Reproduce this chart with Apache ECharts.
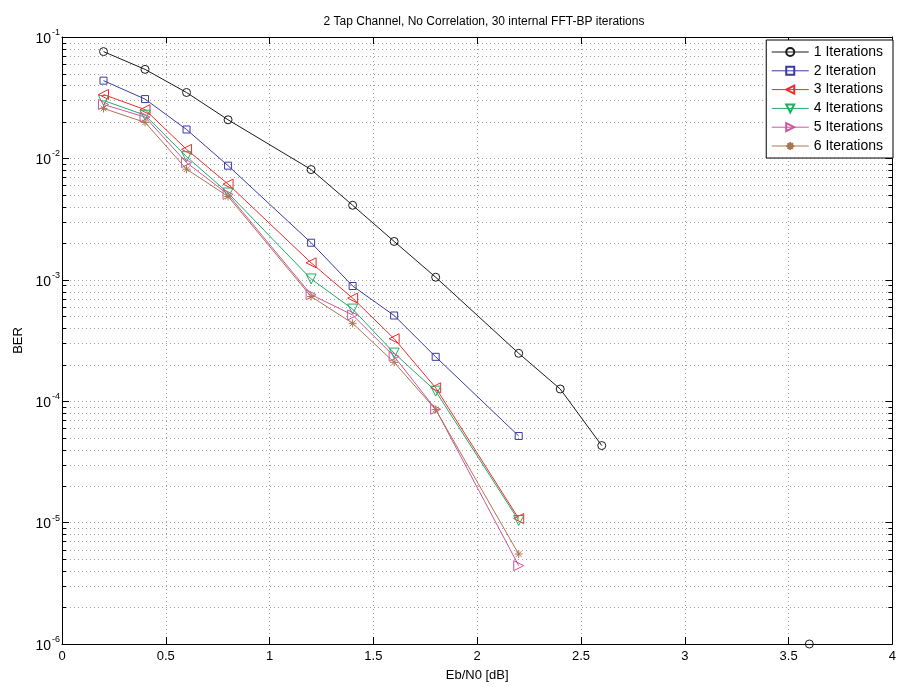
<!DOCTYPE html>
<html>
<head>
<meta charset="utf-8">
<script src="https://cdn.jsdelivr.net/npm/echarts@6/dist/echarts.min.js"></script>
<style>
  html, body { margin: 0; padding: 0; background: #fff; }
  #chart { width: 899px; height: 687px; }
</style>
</head>
<body>
<div id="chart"></div>
<script>
// Eb/N0 points (dB)
const ebn0Long = [0.2, 0.4, 0.6, 0.8, 1.2, 1.4, 1.6, 1.8, 2.2, 2.4, 2.6, 3.6];
const ebn0 = [0.2, 0.4, 0.6, 0.8, 1.2, 1.4, 1.6, 1.8, 2.2];

// Bit error rates per number of outer iterations
const ber1 = [0.0758, 0.0541, 0.0349, 0.0208, 0.00809, 0.00411, 0.00207, 0.00105, 2.48e-4, 1.26e-4, 4.31e-5, 1e-6];
const ber2 = [0.0437, 0.0308, 0.0173, 0.00871, 0.00202, 8.89e-4, 5.08e-4, 2.32e-4, 5.17e-5];
const ber3 = [0.0336, 0.0252, 0.01187, 0.00614, 0.00138, 7.06e-4, 3.27e-4, 1.29e-4, 1.08e-5];
const ber4 = [0.0300, 0.0227, 0.01033, 0.00519, 0.001016, 5.74e-4, 2.49e-4, 1.21e-4, 1.04e-5];
const ber5 = [0.0278, 0.0219, 0.00923, 0.00505, 7.55e-4, 5.13e-4, 2.34e-4, 8.59e-5, 4.42e-6];
const ber6 = [0.0258, 0.0198, 0.00815, 0.00486, 7.28e-4, 4.38e-4, 2.09e-4, 8.53e-5, 5.51e-6];

const seriesNames = ['1 Iterations', '2 Iteration', '3 Iterations', '4 Iterations', '5 Iterations', '6 Iterations'];
const xTicks = ['0', '0.5', '1', '1.5', '2', '2.5', '3', '3.5', '4'];

const FONT = '"Liberation Sans", Arial, sans-serif';

// Pair up x/y values; breakBefore inserts a gap (zero BER values in between are not drawable on a log axis)
function toPairs(xs, ys, breakBefore) {
  const out = [];
  for (let i = 0; i < xs.length; i++) {
    if (i === breakBefore) out.push(null);
    out.push([xs[i], ys[i]]);
  }
  return out;
}

// Minor log gridline values 2..9 x 10^k
const minorVals = [];
for (let k = -6; k <= -2; k++) {
  for (let m = 2; m <= 9; m++) minorVals.push([0, m * Math.pow(10, k)]);
}

const asterisk = 'path://M0,-10L0,10M-10,0L10,0M-7,-7L7,7M-7,7L7,-7';

function lineSeries(name, data, color, symbol, size, rotate) {
  return {
    name: name,
    type: 'line',
    data: data,
    symbol: symbol,
    symbolSize: size,
    symbolRotate: rotate || 0,
    connectNulls: false,
    clip: false,
    z: 3,
    lineStyle: { color: color, width: 1 },
    itemStyle: { color: 'rgba(255,255,255,0)', borderColor: color, borderWidth: 1 },
    emphasis: { disabled: true }
  };
}

const chart = echarts.init(document.getElementById('chart'), null, { renderer: 'canvas' });

const gridLine = { show: true, lineStyle: { color: '#a0a0a0', type: [1, 3], width: 1 } };

const option = {
  animation: false,
  backgroundColor: '#fff',
  textStyle: { fontFamily: FONT },
  title: {
    text: '2 Tap Channel, No Correlation, 30 internal FFT-BP iterations',
    left: 479, top: 11, textAlign: 'center',
    textStyle: { fontFamily: FONT, fontSize: 12, fontWeight: 'normal', color: '#000' }
  },
  legend: {
    orient: 'vertical',
    right: 6, top: 40,
    data: seriesNames,
    backgroundColor: '#fff',
    borderColor: '#000', borderWidth: 1,
    padding: [5, 10, 5, 5],
    itemWidth: 37, itemHeight: 10, itemGap: 4.8,
    lineStyle: { width: 1 },
    textStyle: { fontFamily: FONT, fontSize: 14, lineHeight: 14, color: '#000' }
  },
  grid: { left: 62, right: 3, top: 37, bottom: 37, containLabel: false, show: false },
  xAxis: [{
    type: 'value', min: 0, max: 4, interval: 0.5, position: 'bottom',
    name: 'Eb/N0 [dB]', nameLocation: 'middle', nameGap: 25,
    nameTextStyle: { fontFamily: FONT, fontSize: 13, color: '#000' },
    axisLine: { show: true, lineStyle: { color: '#000', width: 1 } },
    axisTick: { show: true, inside: true, length: 7, lineStyle: { color: '#000' } },
    axisLabel: {
      margin: 6, fontFamily: FONT, fontSize: 13, color: '#000',
      formatter: function (v) { return xTicks[Math.round(v / 0.5)]; }
    },
    splitLine: gridLine
  }, {
    type: 'value', min: 0, max: 4, interval: 0.5, position: 'top',
    axisLine: { show: true, onZero: false, lineStyle: { color: '#000', width: 1 } },
    axisTick: { show: true, inside: true, length: 7, lineStyle: { color: '#000' } },
    axisLabel: { show: false },
    splitLine: { show: false }
  }],
  yAxis: [{
    type: 'log', logBase: 10, min: 1e-6, max: 1e-1, interval: 1, position: 'left',
    name: 'BER', nameLocation: 'middle', nameGap: 35, nameRotate: 90,
    nameTextStyle: { fontFamily: FONT, fontSize: 13, color: '#000' },
    axisLine: { show: true, onZero: false, lineStyle: { color: '#000', width: 1 } },
    axisTick: { show: true, inside: true, length: 7, lineStyle: { color: '#000' } },
    axisLabel: {
      margin: 2, fontFamily: FONT, color: '#000',
      formatter: function (v) {
        const e = Math.round(Math.log10(v));
        return '{b|10}{s|' + e + '}';
      },
      rich: {
        b: { fontFamily: FONT, fontSize: 14, color: '#000', verticalAlign: 'bottom', lineHeight: 18 },
        s: { fontFamily: FONT, fontSize: 9, color: '#000', verticalAlign: 'top', lineHeight: 18, padding: [0, 0, 8, 1] }
      }
    },
    splitLine: gridLine
  }, {
    type: 'log', logBase: 10, min: 1e-6, max: 1e-1, interval: 1, position: 'right',
    axisLine: { show: true, onZero: false, lineStyle: { color: '#000', width: 1 } },
    axisTick: { show: true, inside: true, length: 7, lineStyle: { color: '#000' } },
    axisLabel: { show: false },
    splitLine: { show: false }
  }],
  series: [
    {
      // minor log grid: dotted lines plus short inward ticks on both sides
      type: 'custom',
      silent: true,
      z: 1,
      clip: false,
      data: minorVals,
      renderItem: function (params, api) {
        const v = api.value(1);
        const p0 = api.coord([0, v]);
        const p1 = api.coord([4, v]);
        const y = Math.round(p0[1]) + 0.5;
        return {
          type: 'group',
          children: [
            { type: 'line', shape: { x1: p0[0], y1: y, x2: p1[0], y2: y },
              style: { stroke: '#a0a0a0', lineWidth: 1, lineDash: [1, 3] } },
            { type: 'line', shape: { x1: p0[0], y1: y, x2: p0[0] + 4, y2: y },
              style: { stroke: '#000', lineWidth: 1 } },
            { type: 'line', shape: { x1: p1[0] - 4, y1: y, x2: p1[0], y2: y },
              style: { stroke: '#000', lineWidth: 1 } }
          ]
        };
      }
    },
    lineSeries(seriesNames[0], toPairs(ebn0Long, ber1, 11), '#1a1a1a', 'circle', 8),
    lineSeries(seriesNames[1], toPairs(ebn0, ber2), '#3a3aa6', 'rect', 7),
    lineSeries(seriesNames[2], toPairs(ebn0, ber3), '#f22a2a', 'triangle', 10, 90),
    lineSeries(seriesNames[3], toPairs(ebn0, ber4), '#1fae62', 'triangle', 10, 180),
    lineSeries(seriesNames[4], toPairs(ebn0, ber5), '#d0559e', 'triangle', 10, -90),
    lineSeries(seriesNames[5], toPairs(ebn0, ber6), '#ac7650', asterisk, 8)
  ]
};

chart.setOption(option);
</script>
</body>
</html>
